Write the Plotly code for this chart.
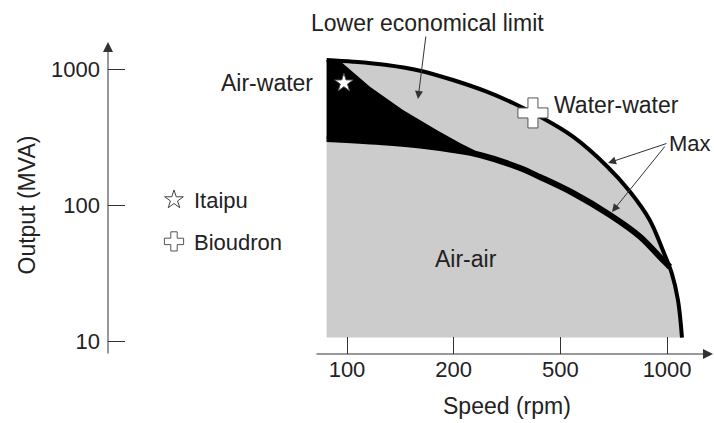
import numpy as np
import plotly.graph_objects as go

# ---------------- data ----------------
TICK_SPEEDS = [100, 200, 500, 1000]
TICK_LABELS = ["100", "200", "500", "1000"]
OUTPUT_TICKS = [10, 100, 1000]
OUTPUT_LABELS = ["10", "100", "1000"]

# maximum output, water-water cooling (outer envelope)
outer_speed = [87.6, 104, 129.4, 160.7, 199, 265.5, 332.8, 419.7, 542.7, 675.5, 784, 893, 972, 1030, 1073, 1101.5]
outer_output = [1164, 1131, 1070, 972, 830, 681.7, 563, 446.7, 318.6, 194.2, 126.7, 78.0, 47.0, 31.9, 20.2, 10.7]

# maximum output, air-air cooling
inner_speed = [87.6, 129.4, 160.7, 199, 250.7, 353.4, 419.7, 542.7, 690, 839, 972, 1019]
inner_output = [306.5, 288.8, 274.6, 254.5, 233.9, 187.8, 161.3, 123.1, 84.9, 58.8, 39.7, 35.3]

# lower economical limit of water-water cooling
lel_speed = [95.6, 116.1, 143.9, 179.1, 211.1, 250.7]
lel_output = [1145, 741.6, 500.4, 356.8, 286.5, 242]

base_output = 10.7

project_names = ["Itaipu", "Bioudron"]
project_speed = [98, 395]
project_output = [790, 476]


def speed_pos(v):
    """Map rpm onto the evenly spaced 100-200-500-1000 speed scale."""
    lt = np.log10(TICK_SPEEDS)
    lv = np.log10(np.asarray(v, dtype=float))
    pos = np.interp(lv, lt, np.arange(len(lt), dtype=float))
    lo = lv < lt[0]
    hi = lv > lt[-1]
    pos[lo] = (lv[lo] - lt[0]) / (lt[1] - lt[0])
    pos[hi] = (len(lt) - 1) + (lv[hi] - lt[-1]) / (lt[-1] - lt[-2])
    return pos


FONT = "Liberation Sans, Arial, Helvetica, sans-serif"
TXT = "#222222"
AX = "#333333"
GRAY = "#cccccc"
FS = 23

fig = go.Figure()

# gray area (water-water / air-air domain)
fig.add_trace(go.Scatter(x=speed_pos([outer_speed[0], outer_speed[-1]]), y=[base_output, base_output],
                         mode="lines", line=dict(width=0), showlegend=False, hoverinfo="skip"))
fig.add_trace(go.Scatter(x=speed_pos(outer_speed), y=outer_output, mode="lines",
                         line=dict(width=0, shape="spline"), fill="tonexty", fillcolor=GRAY,
                         showlegend=False, hoverinfo="skip"))
# black area (air-water)
fig.add_trace(go.Scatter(x=speed_pos(inner_speed[:5]), y=inner_output[:5], mode="lines",
                         line=dict(width=0, shape="spline"), showlegend=False, hoverinfo="skip"))
fig.add_trace(go.Scatter(x=speed_pos([outer_speed[0]] + lel_speed), y=[outer_output[0]] + lel_output,
                         mode="lines", line=dict(width=0), fill="tonexty", fillcolor="black",
                         showlegend=False, hoverinfo="skip"))
# limit curves
fig.add_trace(go.Scatter(x=speed_pos(inner_speed), y=inner_output, mode="lines",
                         line=dict(width=6, color="black", shape="spline"), showlegend=False))
fig.add_trace(go.Scatter(x=speed_pos(outer_speed), y=outer_output, mode="lines",
                         line=dict(width=4, color="black", shape="spline"), showlegend=False))
# projects
fig.add_trace(go.Scatter(x=speed_pos([project_speed[0]]), y=[project_output[0]], mode="markers",
                         name=project_names[0], legendgroup="a",
                         marker=dict(symbol="star", size=14, color="white",
                                     line=dict(color="#444444", width=1))))
fig.add_trace(go.Scatter(x=speed_pos([project_speed[1]]), y=[project_output[1]], mode="markers",
                         name=project_names[1], legendgroup="b",
                         marker=dict(symbol="cross", size=25, color="white",
                                     line=dict(color="#555555", width=1))))

W, H = 714, 423
L, R, T, B = 108, 0, 0, 69
PW, PH = W - L - R, H - T - B


def px(xpix):
    return (xpix - L) / PW


def py(ypix):
    return (H - B - ypix) / PH


ann = []


def text(s, x, y, xa="center", size=FS, **kw):
    ann.append(dict(text=s, x=px(x), y=py(y), xref="paper", yref="paper", xanchor=xa,
                    yanchor="middle", showarrow=False, font=dict(family=FONT, size=size, color=TXT), **kw))


text("Lower economical limit", 427.5, 23)
text("Air-water", 315, 83, xa="right")
text("Water-water", 552, 105, xa="left")
text("Max", 713, 143.5, xa="right", size=22)
text("Air-air", 466, 258.5)
text("Speed (rpm)", 506.5, 406)
text("Output (MVA)", 26, 205.5, textangle=-90)


def arrow(tipx, tipy, tailx, taily, size=1.0, head=2):
    ann.append(dict(text="", x=px(tipx), y=py(tipy), xref="paper", yref="paper",
                    ax=tailx - tipx, ay=taily - tipy, showarrow=True, arrowhead=head,
                    arrowsize=size, arrowwidth=1, arrowcolor=AX, standoff=0, startstandoff=0))


arrow(418, 99, 426, 35, size=1.6)
arrow(608, 163, 668, 143, size=1.6)
arrow(612, 212, 666, 145, size=1.6)
# axis arrows
arrow(108, 42, 108, 355, size=2)
arrow(717, 354, 315, 354, size=2)

fig.update_layout(
    width=W, height=H, margin=dict(l=L, r=R, t=T, b=B),
    paper_bgcolor="white", plot_bgcolor="white",
    font=dict(family=FONT, size=22, color=TXT),
    annotations=ann,
    showlegend=True,
    legend=dict(x=px(154), y=py(179), xanchor="left", yanchor="top", tracegroupgap=10,
                bgcolor="rgba(0,0,0,0)", font=dict(family=FONT, size=22, color=TXT),
                itemsizing="trace"),
    xaxis=dict(range=[(L - 347) / 106.7, (W - 347) / 106.7], tickvals=list(range(len(TICK_SPEEDS))),
               ticktext=TICK_LABELS, ticks="inside", ticklen=17, tickwidth=1, tickcolor=AX,
               showgrid=False, zeroline=False, showline=False,
               tickfont=dict(family=FONT, size=22, color=TXT)),
    yaxis=dict(type="log", range=[3 - 285 / 136.3, 3 + 69 / 136.3], tickvals=OUTPUT_TICKS,
               ticktext=OUTPUT_LABELS, ticks="inside", ticklen=17, tickwidth=1, tickcolor=AX,
               showgrid=False, zeroline=False, showline=False,
               tickfont=dict(family=FONT, size=22, color=TXT), ticklabelstandoff=7),
)

fig.write_html("out.html")
